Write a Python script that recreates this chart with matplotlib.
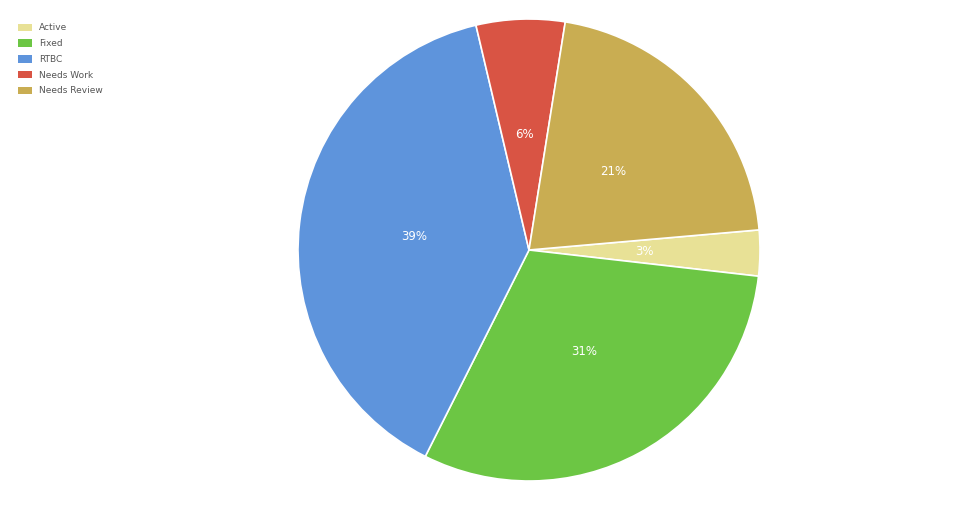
import matplotlib
matplotlib.use("Agg")
import matplotlib.pyplot as plt
from matplotlib.patches import Patch

labels = ["Active", "Fixed", "RTBC", "Needs Work", "Needs Review"]
values = [3.2, 30.6, 38.9, 6.2, 21.1]
colors = ["#e8e196", "#6cc644", "#5e94dc", "#d95444", "#c9ad52"]

fig = plt.figure(figsize=(9.6, 5.09), dpi=100)
cx, cy, r = 529, 250, 231
ax = fig.add_axes([(cx - r) / 960, (509 - cy - r) / 509, 2 * r / 960, 2 * r / 509])
ax.pie(values, colors=colors, startangle=5, counterclock=False,
       autopct="%1.0f%%", pctdistance=0.5,
       wedgeprops=dict(edgecolor="white", linewidth=1.2),
       textprops=dict(color="white", fontsize=8.5))
ax.set_aspect("auto")
ax.set_xlim(-1, 1)
ax.set_ylim(-1, 1)

handles = [Patch(facecolor=c, edgecolor="none") for c in colors]
fig.legend(handles, labels, loc="upper left", bbox_to_anchor=(0.01, 0.97),
           frameon=False, fontsize=6.5, handlelength=1.6, handleheight=0.9,
           labelspacing=0.75, labelcolor="#555555")
fig.savefig("out.png", dpi=100)
